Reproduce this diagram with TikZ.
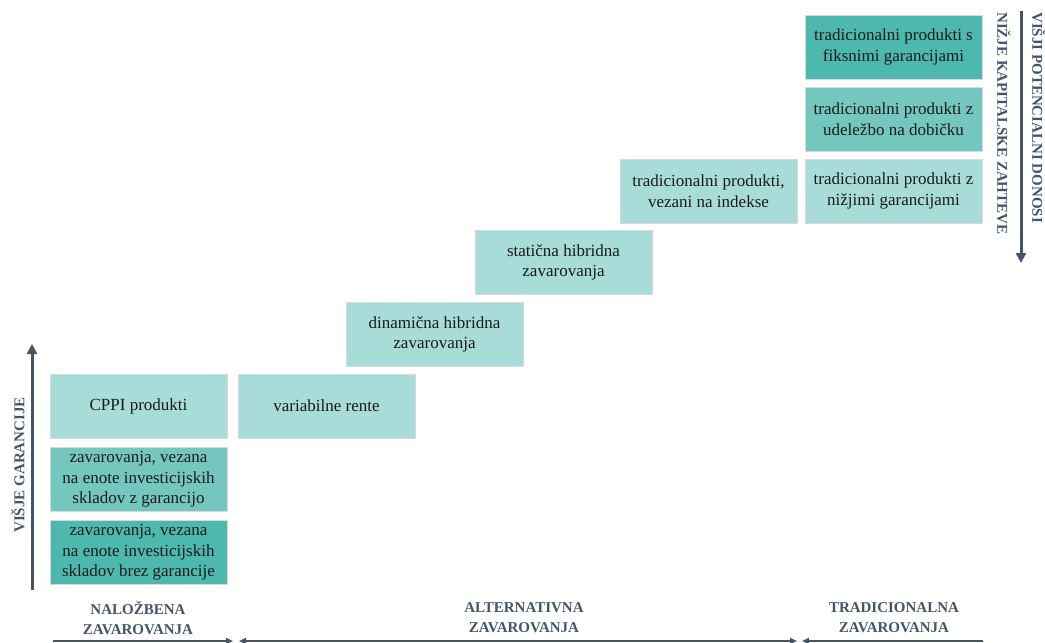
\documentclass[tikz,border=0pt]{standalone}
\usepackage{fontspec}
\setmainfont{Liberation Serif}
\usetikzlibrary{arrows.meta}
\definecolor{tlight}{HTML}{A7DCD8}
\definecolor{tmid}{HTML}{74C7BF}
\definecolor{tdark}{HTML}{4DB8AE}
\definecolor{slate}{HTML}{44546A}
\definecolor{txt}{HTML}{1A1A1A}
\tikzset{
  box/.style={draw=gray!30, line width=0.8pt, minimum width=177pt, minimum height=64pt,
    inner sep=0pt, align=center, text=txt,
    font=\fontsize{17pt}{20.5pt}\selectfont},
  lab/.style={text=slate, font=\fontsize{15pt}{20pt}\selectfont\bfseries, align=center, inner sep=0pt},
  bigarrow/.style={draw=slate, line width=3pt, -{Triangle[width=10pt,length=10pt]}},
  smallarrow/.style={draw=slate, line width=2pt},
  stip/.tip={Triangle[width=6pt,length=7pt]},
}
\begin{document}
\begin{tikzpicture}[x=1pt,y=-1pt]
\useasboundingbox (0,0) rectangle (1045,643);
% boxes
\node[box, fill=tlight] (cppi) at (138.5,406) {CPPI produkti};
\node[box, fill=tmid] (zg) at (138.5,479.5) {zavarovanja, vezana\\na enote investicijskih\\skladov z garancijo};
\node[box, fill=tdark] (zb) at (138.5,552.5) {zavarovanja, vezana\\na enote investicijskih\\skladov brez garancije};
\node[box, fill=tlight] (vr) at (326.5,406) {variabilne rente};
\node[box, fill=tlight] (dh) at (434.5,334.5) {dinami\v{c}na hibridna\\zavarovanja};
\node[box, fill=tlight] (sh) at (563.5,262.5) {stati\v{c}na hibridna\\zavarovanja};
\node[box, fill=tlight] (ti) at (708.5,191) {tradicionalni produkti,\\vezani na indekse};
\node[box, fill=tlight] (tn) at (893.5,191) {tradicionalni produkti z\\ni\v{z}jimi garancijami};
\node[box, fill=tmid] (tu) at (893.5,119) {tradicionalni produkti z\\udele\v{z}bo na dobi\v{c}ku};
\node[box, fill=tdark] (tf) at (893.5,47) {tradicionalni produkti s\\fiksnimi garancijami};
% left vertical arrow
\coordinate (la0) at (32,590);
\coordinate (la1) at (32,344);
\draw[bigarrow] (la0) -- (la1);
\node[lab, rotate=90] (lt) at (18,465) {VI\v{S}JE GARANCIJE};
% right vertical arrow
\coordinate (ra0) at (1021,11);
\coordinate (ra1) at (1021,263);
\draw[bigarrow] (ra0) -- (ra1);
\node[lab, rotate=-90, anchor=south west] (rt1) at (1032,12) {VI\v{S}JI POTENCIALNI DONOSI};
\node[lab, rotate=-90, anchor=south west] (rt2) at (997,12) {NI\v{Z}JE KAPITALSKE ZAHTEVE};
% bottom labels
\node[lab] (bl1) at (138,618) {NALO\v{Z}BENA\\ZAVAROVANJA};
\node[lab] (bl2) at (524,618) {ALTERNATIVNA\\ZAVAROVANJA};
\node[lab] (bl3) at (894,618) {TRADICIONALNA\\ZAVAROVANJA};
% bottom arrows
\coordinate (a1s) at (53,641);
\coordinate (a1e) at (233,641);
\coordinate (a2s) at (239,641);
\coordinate (a2e) at (797,641);
\coordinate (a3s) at (983,641);
\coordinate (a3e) at (802,641);
\draw[smallarrow, -stip] (a1s) -- (a1e);
\draw[smallarrow, stip-stip] (a2s) -- (a2e);
\draw[smallarrow, -stip] (a3s) -- (a3e);
\end{tikzpicture}
\end{document}
